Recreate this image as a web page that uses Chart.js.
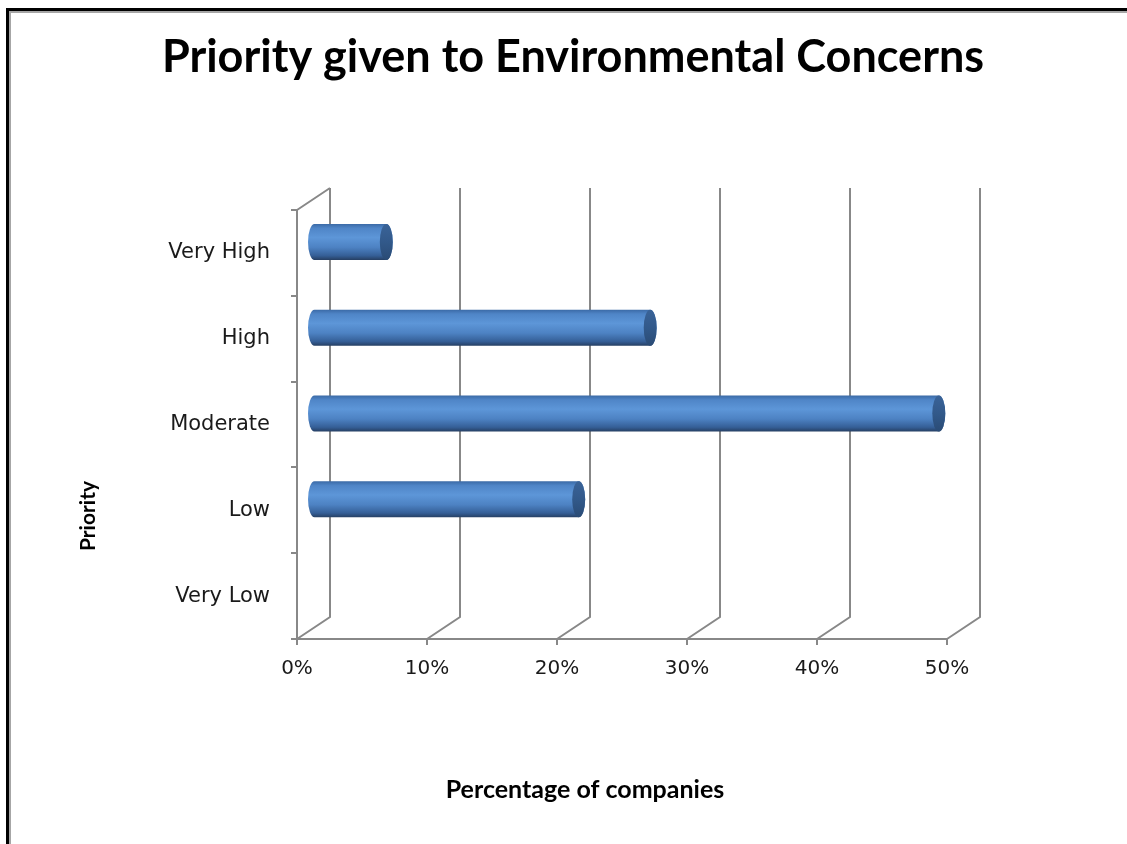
<!DOCTYPE html>
<html>
<head>
<meta charset="utf-8">
<title>Priority given to Environmental Concerns</title>
<script src="https://cdn.jsdelivr.net/npm/chart.js@4.4.1/dist/chart.umd.min.js"></script>
<style>
  html, body { margin: 0; padding: 0; background: #fff; }
  #wrap { position: relative; width: 1127px; height: 844px; overflow: hidden; }
  #chart { position: absolute; left: 0; top: 0; }
  /* sheet border, open to the right and bottom */
  #frame {
    position: absolute; left: 6px; top: 8px; width: 1200px; height: 1000px;
    border: 3px solid #000; box-shadow: inset 2px 2px 0 #a6a6a6;
    pointer-events: none;
  }
</style>
</head>
<body>
<div id="wrap">
  <canvas id="chart" width="1127" height="844"></canvas>
  <div id="frame"></div>
</div>
<script>
// Share of companies (%) per priority level
const categories = ['Very High', 'High', 'Moderate', 'Low', 'Very Low'];
const shares = [5.6, 25.9, 48.1, 20.4, 0];
const axisMin = 0;
const axisMax = 50;
const axisStep = 10;

const chartTitle = 'Priority given to Environmental Concerns';
const xTitle = 'Percentage of companies';
const yTitle = 'Priority';

// depth of the fake 3D box (back wall offset from the front plane)
const DEPTH_X = 33;
const DEPTH_Y = -22;
const GRID = '#888888';

// back wall gridlines and floor diagonals
const wallPlugin = {
    id: 'wall3d',
    beforeDatasetsDraw(chart) {
        const { ctx, chartArea, scales } = chart;
        const xs = scales.x;
        ctx.save();
        ctx.strokeStyle = GRID;
        ctx.lineWidth = 2;
        ctx.beginPath();
        xs.ticks.forEach(t => {
            const px = Math.round(xs.getPixelForValue(t.value));
            ctx.moveTo(px, chartArea.bottom);
            ctx.lineTo(px + DEPTH_X, chartArea.bottom + DEPTH_Y);
            ctx.lineTo(px + DEPTH_X, chartArea.top + DEPTH_Y);
        });
        // top edge of the side wall
        ctx.moveTo(chartArea.left, chartArea.top);
        ctx.lineTo(chartArea.left + DEPTH_X, chartArea.top + DEPTH_Y);
        ctx.stroke();
        ctx.restore();
    }
};

// draws each bar as a cylinder sitting halfway into the box depth
const cylinderPlugin = {
    id: 'cylinders',
    afterDatasetsDraw(chart) {
        const { ctx } = chart;
        const meta = chart.getDatasetMeta(0);
        const ox = DEPTH_X / 2;
        const oy = DEPTH_Y / 2;
        ctx.save();
        meta.data.forEach(bar => {
            const { x, y, base, height } = bar.getProps(['x', 'y', 'base', 'height'], true);
            const x0 = base + ox;
            const x1 = x + ox;
            if (x1 - x0 < 1) return;
            const cy = y + oy;
            const r = height / 2;
            const rx = r * 0.36;

            const body = ctx.createLinearGradient(0, cy - r, 0, cy + r);
            body.addColorStop(0, '#3b6aa6');
            body.addColorStop(0.12, '#4f85c7');
            body.addColorStop(0.38, '#5d96d8');
            body.addColorStop(0.65, '#4d82c3');
            body.addColorStop(0.88, '#355f97');
            body.addColorStop(1, '#263f63');

            ctx.beginPath();
            ctx.moveTo(x0, cy - r);
            ctx.lineTo(x1, cy - r);
            ctx.ellipse(x1, cy, rx, r, 0, -Math.PI / 2, Math.PI / 2);
            ctx.lineTo(x0, cy + r);
            ctx.ellipse(x0, cy, rx, r, 0, Math.PI / 2, Math.PI * 1.5);
            ctx.closePath();
            ctx.fillStyle = body;
            ctx.fill();

            const cap = ctx.createLinearGradient(0, cy - r, 0, cy + r);
            cap.addColorStop(0, '#3a6398');
            cap.addColorStop(0.5, '#32598a');
            cap.addColorStop(1, '#2a4b75');
            ctx.beginPath();
            ctx.ellipse(x1, cy, rx, r, 0, 0, Math.PI * 2);
            ctx.fillStyle = cap;
            ctx.fill();
        });
        ctx.restore();
    }
};

// chart and axis titles
const titlesPlugin = {
    id: 'titles',
    afterDraw(chart) {
        const { ctx } = chart;
        ctx.save();
        ctx.fillStyle = '#000';
        ctx.textAlign = 'center';
        ctx.textBaseline = 'middle';
        ctx.font = 'bold 45px Lato, "Open Sans", sans-serif';
        ctx.fillText(chartTitle, 573, 57);
        ctx.font = 'bold 25px Lato, "Open Sans", sans-serif';
        ctx.fillText(xTitle, 585, 790);
        ctx.font = 'bold 21px Lato, "Open Sans", sans-serif';
        ctx.translate(88, 516);
        ctx.rotate(-Math.PI / 2);
        ctx.fillText(yTitle, 0, 0);
        ctx.restore();
    }
};

new Chart(document.getElementById('chart'), {
    type: 'bar',
    data: {
        labels: categories,
        datasets: [{
            label: 'Companies',
            data: shares,
            backgroundColor: 'rgba(0,0,0,0)',
            borderWidth: 0,
            barPercentage: 0.42,
            categoryPercentage: 1
        }]
    },
    options: {
        indexAxis: 'y',
        responsive: false,
        animation: false,
        layout: { padding: { left: 0, right: 180, top: 210, bottom: 0 } },
        plugins: {
            legend: { display: false },
            title: { display: false },
            tooltip: { enabled: false }
        },
        scales: {
            x: {
                type: 'linear',
                min: axisMin,
                max: axisMax,
                ticks: {
                    stepSize: axisStep,
                    padding: 12,
                    color: '#1a1a1a',
                    font: { family: '"DejaVu Sans", sans-serif', size: 20 },
                    callback: v => v + '%'
                },
                grid: { drawOnChartArea: false, drawTicks: true, tickLength: 6, color: GRID, lineWidth: 2 },
                border: { display: true, color: GRID, width: 2 },
                afterFit: axis => { axis.height = 205; }
            },
            y: {
                type: 'category',
                offset: true,
                ticks: {
                    padding: 21,
                    color: '#1a1a1a',
                    font: { family: '"DejaVu Sans", sans-serif', size: 21 }
                },
                grid: { offset: true, drawOnChartArea: false, drawTicks: true, tickLength: 6, color: GRID, lineWidth: 2 },
                border: { display: true, color: GRID, width: 2 },
                afterFit: axis => { axis.width = 297; }
            }
        }
    },
    plugins: [wallPlugin, cylinderPlugin, titlesPlugin]
});
</script>
</body>
</html>
